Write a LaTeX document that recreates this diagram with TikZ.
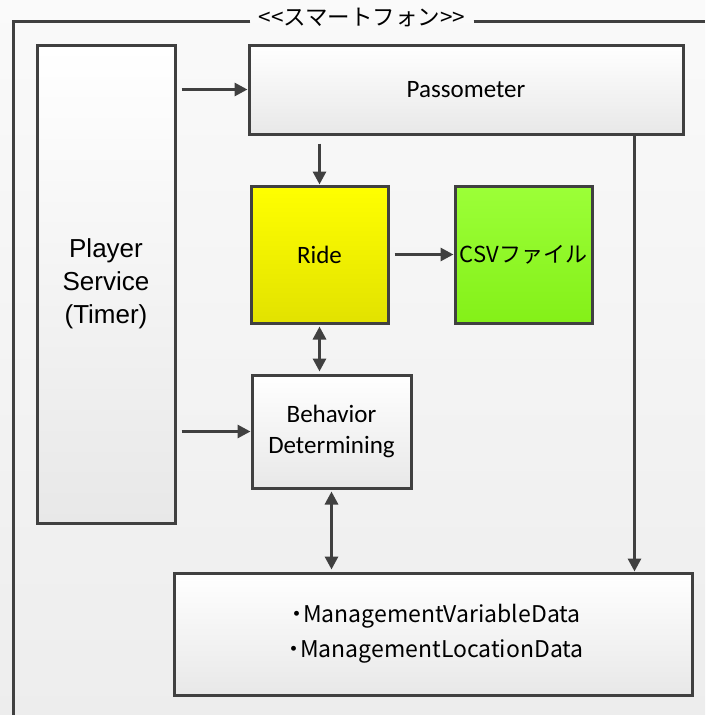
\documentclass[tikz,border=0pt]{standalone}
\usepackage{fontspec}
\setmainfont{Carlito}
\newfontfamily\jpfont{Noto Sans CJK JP}
\newfontfamily\arialfont{Liberation Sans}
\usetikzlibrary{positioning,arrows.meta,shadows,calc}
\definecolor{edgegray}{HTML}{404040}
\definecolor{rideyellow}{HTML}{FFFF00}
\definecolor{ridedark}{HTML}{E2E200}
\definecolor{csvgreen}{HTML}{9CFF38}
\definecolor{csvdark}{HTML}{84F018}

\begin{document}
\begin{tikzpicture}[x=1pt, y=-1pt, font=\fontsize{25}{31}\selectfont,
    box/.style={draw=edgegray, line width=3pt, top color=white, bottom color=black!9,
        drop shadow={shadow xshift=2pt, shadow yshift=-2pt, opacity=0.18},
        align=center, inner sep=0pt},
    link/.style={edgegray, line width=3pt, -{Triangle[length=13pt,width=13pt]}},
    twoway/.style={link, {Triangle[length=13pt,width=13pt]}-{Triangle[length=13pt,width=13pt]}}]
        % page
        \shade[top color=black!2, bottom color=black!7] (0,0) rectangle (705,715);
        \useasboundingbox (0,0) rectangle (705,715);
        % frame
        \node[font=\jpfont\fontsize{22.5}{26}\selectfont, inner xsep=8pt] (title) at (362,17) {<\kern0pt<スマートフォン>\kern0pt>};
        \coordinate (corner) at (13,21);
        \draw[edgegray, line width=3pt] (title.west |- corner) -- (corner) -- (corner |- 0,715);
        \draw[edgegray, line width=3pt] (title.east |- corner) -- (705,21);
        % boxes
        \node[box, minimum width=138pt, minimum height=478pt, font=\arialfont\fontsize{26}{33}\selectfont] (player) at (106,284) {Player\\Service\\(Timer)};
        \node[box, minimum width=434pt, minimum height=89pt] (pass) at (466,89.5) {Passometer};
        \node[box, minimum width=137pt, minimum height=137pt, top color=rideyellow, bottom color=ridedark] (ride) at (319.5,254.5) {Ride};
        \node[box, minimum width=137pt, minimum height=137pt, top color=csvgreen, bottom color=csvdark, font=\jpfont\fontsize{22}{26}\selectfont] (csv) at (523.5,254.5) {CSVファイル};
        \node[box, minimum width=159pt, minimum height=113pt] (behav) at (331.5,431.5) {Behavior\\Determining};
        \node[box, minimum width=518pt, minimum height=122pt, font=\jpfont\fontsize{23}{35}\selectfont] (data) at (433,634) {・\kern-5pt ManagementVariableData\\・\kern-5pt ManagementLocationData};
        % arrows
        \draw[link] ($(player.east |- pass.west)+(5,0)$) -- (pass.west);
        \draw[link] ($(player.east |- behav.west)+(5,0)$) -- (behav.west);
        \draw[link] ($(pass.south -| ride.north)+(0,8)$) -- (ride.north);
        \draw[link] ($(ride.east)+(5,0)$) -- (csv.west);
        \draw[twoway] ($(ride.south)+(0,2)$) -- ($(ride.south |- behav.north)+(0,-2)$);
        \draw[twoway] ($(behav.south)+(0,2)$) -- ($(behav.south |- data.north)+(0,-2)$);
        \draw[link] ($(pass.south east)+(-50,0)$) -- ($(pass.south east |- data.north)+(-50,0)$);
\end{tikzpicture}
\end{document}
